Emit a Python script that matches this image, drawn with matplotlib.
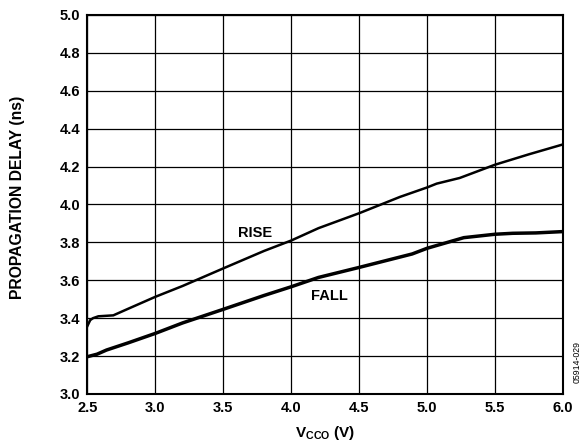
import numpy as np
import matplotlib
matplotlib.use('Agg')
import matplotlib.pyplot as plt

plt.rcParams['font.family'] = ['Liberation Sans', 'DejaVu Sans']
plt.rcParams['font.weight'] = 'bold'
plt.rcParams['mathtext.fontset'] = 'custom'
plt.rcParams['mathtext.rm'] = 'Liberation Sans:bold'
plt.rcParams['mathtext.bf'] = 'Liberation Sans:bold'
plt.rcParams['mathtext.it'] = 'Liberation Sans:bold'

# data
rise_v = [2.5, 2.52, 2.54, 2.58, 2.69, 2.8, 3.0, 3.2, 3.5, 3.8, 4.0, 4.2, 4.5, 4.8, 5.0, 5.07, 5.24, 5.5, 5.75, 6.0]
rise_ns = [3.36, 3.39, 3.40, 3.41, 3.415, 3.45, 3.513, 3.57, 3.663, 3.755, 3.81, 3.875, 3.954, 4.04, 4.09, 4.11, 4.14, 4.21, 4.265, 4.317]

fall_v = [2.5, 2.57, 2.64, 2.8, 3.0, 3.2, 3.5, 3.8, 4.0, 4.2, 4.5, 4.89, 5.0, 5.27, 5.5, 5.63, 5.8, 6.0]
fall_ns = [3.197, 3.21, 3.232, 3.27, 3.32, 3.375, 3.447, 3.52, 3.566, 3.615, 3.668, 3.739, 3.769, 3.825, 3.843, 3.848, 3.85, 3.857]

FS = 10.5

fig = plt.figure(figsize=(5.81, 4.46), dpi=100)
ax = fig.add_axes([0.1506, 0.1166, 0.8184, 0.8498])

ax.plot(rise_v, rise_ns, color='black', lw=1.8, zorder=3)
ax.plot(fall_v, fall_ns, color='black', lw=2.5, zorder=3)

ax.text(3.736, 3.851, 'RISE', fontsize=FS, fontweight='bold', ha='center', va='center')
ax.text(4.28, 3.519, 'FALL', fontsize=FS, fontweight='bold', ha='center', va='center')

ax.set_xlim(2.5, 6.0)
ax.set_ylim(3.0, 5.0)
ax.set_xticks(np.arange(2.5, 6.01, 0.5))
ax.set_yticks(np.arange(3.0, 5.01, 0.2))
ax.set_xticklabels(['%.1f' % v for v in np.arange(2.5, 6.01, 0.5)], fontsize=FS, fontweight='bold')
ax.set_yticklabels(['%.1f' % v for v in np.arange(3.0, 5.01, 0.2)], fontsize=FS, fontweight='bold')
ax.tick_params(length=0, pad=5)
ax.grid(True, color='black', lw=0.9)
for s in ax.spines.values():
    s.set_linewidth(1.5)

fig.text(325 / 581, 1 - 433 / 446, r'$\mathbf{V_{CCO}}$ (V)', fontsize=11, fontweight='bold',
         ha='center', va='center')
fig.text(18 / 581, 1 - 197 / 446, 'PROPAGATION DELAY (ns)', fontsize=11.3, fontweight='bold',
         rotation=90, ha='center', va='center')

fig.text(0.993, 0.141, '05914-029', rotation=90, fontsize=6.3, fontweight='normal',
         ha='center', va='bottom')

fig.savefig('out.png', dpi=100)
